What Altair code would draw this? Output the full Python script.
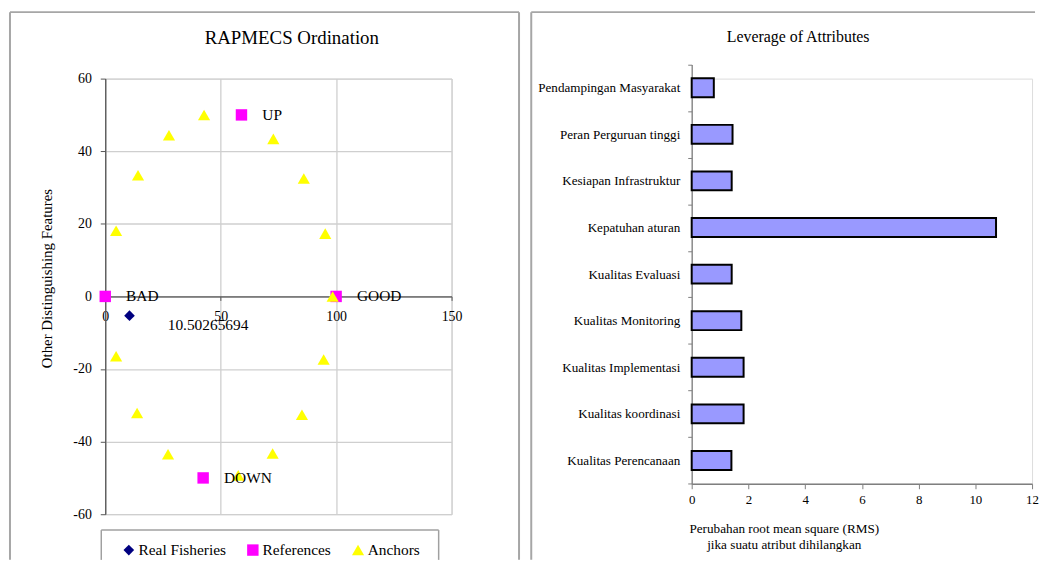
import altair as alt
import pandas as pd

FONT = "Liberation Serif"

# ---------------- data: ordination ----------------
series_names = ["Real Fisheries", "References", "Anchors"]
series_colors = ["#000080", "#FF00FF", "#FFFF00"]
series_shapes = ["diamond", "square", "triangle-up"]
series_sizes = [115, 150, 230]

real_x = [10.50265694]
real_y = [-5.3]
real_label = ["10.50265694"]

ref_labels = ["BAD", "GOOD", "UP", "DOWN"]
ref_x = [0.0, 100.0, 59.0, 42.4]
ref_y = [0.0, 0.0, 50.0, -50.0]

anchor_x = [4.7, 14.2, 27.6, 42.8, 72.8, 86.0, 95.3, 98.5,
            4.7, 13.8, 27.2, 57.6, 72.5, 85.2, 94.6]
anchor_y = [18.1, 33.4, 44.4, 50.0, 43.4, 32.5, 17.3, 0.0,
            -16.5, -32.1, -43.5, -49.3, -43.3, -32.6, -17.4]

x_ticks = [0, 50, 100, 150]
y_ticks = [-60, -40, -20, 0, 20, 40, 60]

left_title = "RAPMECS Ordination"
right_title = "Leverage of Attributes"

# ---------------- data: leverage ----------------
attributes = ["Pendampingan Masyarakat", "Peran Perguruan tinggi",
              "Kesiapan Infrastruktur", "Kepatuhan aturan",
              "Kualitas Evaluasi", "Kualitas Monitoring",
              "Kualitas Implementasi", "Kualitas koordinasi",
              "Kualitas Perencanaan"]
rms_change = [0.78, 1.44, 1.41, 10.73, 1.41, 1.75, 1.83, 1.83, 1.40]
lev_ticks = [0, 2, 4, 6, 8, 10, 12]

# ---------------- tables ----------------
pts = pd.concat([
    pd.DataFrame({"series": "Real Fisheries", "x": real_x, "y": real_y, "label": real_label}),
    pd.DataFrame({"series": "References", "x": ref_x, "y": ref_y, "label": ref_labels}),
    pd.DataFrame({"series": "Anchors", "x": anchor_x, "y": anchor_y, "label": ""}),
], ignore_index=True)

lev = pd.DataFrame({"attr": attributes, "rms": rms_change})

FRAME = "#a6a6a6"
GRID = "#cfcfcf"
AXIS = "#7f7f7f"

LW, LH = 349, 439
RW = 343
R_TOP, R_BOT = -14.3, 408.3   # right plot area, relative to the shared row origin

one = pd.DataFrame({"d": [0]})


def frame_rule(x, y, x2=None, y2=None, color=FRAME, width=2):
    enc = {"x": alt.value(x), "y": alt.value(y)}
    if x2 is not None:
        enc["x2"] = alt.value(x2)
    if y2 is not None:
        enc["y2"] = alt.value(y2)
    return alt.Chart(one).mark_rule(color=color, strokeWidth=width).encode(**enc)


def title_text(text, x, y, size):
    return alt.Chart(one).mark_text(
        text=text, font=FONT, fontSize=size, color="black",
        align="center", baseline="middle").encode(x=alt.value(x), y=alt.value(y))


xsc = alt.Scale(domain=[0, 150], nice=False, zero=False)
ysc = alt.Scale(domain=[-60, 60], nice=False, zero=False)

points = alt.Chart(pts).mark_point(filled=True, opacity=1, strokeWidth=0).encode(
    x=alt.X("x:Q", scale=xsc,
            axis=alt.Axis(values=x_ticks, title=None, offset=-LH / 2,
                          grid=True, gridColor=GRID, gridWidth=1.3,
                          domainColor="#555555", domainWidth=1.3,
                          tickColor="#555555", tickSize=4, labelPadding=9,
                          labelFlush=False, labelOverlap=False,
                          labelExpr="'' + datum.value",
                          labelFont=FONT, labelFontSize=14, labelColor="black")),
    y=alt.Y("y:Q", scale=ysc,
            axis=alt.Axis(values=y_ticks, title="Other Distinguishing Features",
                          grid=True, gridColor=GRID, gridWidth=1.3,
                          domainColor="#555555", domainWidth=1.3,
                          tickColor="#555555", tickSize=5, labelPadding=9,
                          labelFlush=False, labelOverlap=False,
                          labelExpr="'' + datum.value",
                          labelFont=FONT, labelFontSize=14, labelColor="black",
                          titleFont=FONT, titleFontSize=15, titleFontWeight="normal",
                          titleColor="black",
                          titleX=-59, titleY=201, titleAngle=270,
                          titleBaseline="middle", titleAlign="center")),
    color=alt.Color("series:N",
                    scale=alt.Scale(domain=series_names, range=series_colors),
                    legend=alt.Legend(title=None, orient="none", legendX=16, legendY=467,
                                      direction="horizontal", labelFont=FONT,
                                      labelFontSize=15.5, labelColor="black",
                                      labelOffset=2, columnPadding=19, padding=0,
                                      symbolStrokeWidth=0, symbolOpacity=1)),
    shape=alt.Shape("series:N",
                    scale=alt.Scale(domain=series_names, range=series_shapes)),
    size=alt.Size("series:N",
                  scale=alt.Scale(domain=series_names, range=series_sizes)),
    order=alt.Order("ord:Q"),
).transform_calculate(
    ord="datum.series == 'Anchors' ? 3 : (datum.series == 'References' ? 2 : 1)"
)

ref_text = alt.Chart(pts).transform_filter(
    "datum.series == 'References'"
).mark_text(align="left", baseline="middle", dx=21, font=FONT,
            fontSize=15.5, color="black").encode(
    x=alt.X("x:Q", scale=xsc), y=alt.Y("y:Q", scale=ysc), text="label:N")

real_text = alt.Chart(pts).transform_filter(
    "datum.series == 'Real Fisheries'"
).mark_text(align="left", baseline="middle", dx=38.5, dy=9.3, font=FONT,
            fontSize=15.5, color="black").encode(
    x=alt.X("x:Q", scale=xsc), y=alt.Y("y:Q", scale=ysc), text="label:N")

# frame of left panel (plot origin at page 104,76)
lf_top = frame_rule(-96, -67, x2=417)
lf_left = frame_rule(-96, -67, y2=485)
lf_right = frame_rule(417, -67, y2=485)
# legend box
lg_top = frame_rule(-4, 455, x2=336, color="#a0a0a0", width=1.5)
lg_left = frame_rule(-4, 455, y2=485, color="#a0a0a0", width=1.5)
lg_right = frame_rule(336, 455, y2=485, color="#a0a0a0", width=1.5)

left = alt.layer(
    lf_top, lf_left, lf_right, lg_top, lg_left, lg_right,
    title_text(left_title, 188, -41.2, 19),
    points, ref_text, real_text
).properties(width=LW, height=LH)

# ---------------- right chart ----------------
bars = alt.Chart(lev).mark_bar(
    color="#9999FF", stroke="black", strokeWidth=2,
    height=alt.RelativeBandSize(0.405)
).encode(
    x=alt.X("rms:Q", scale=alt.Scale(domain=[0, 12], nice=False),
            axis=alt.Axis(values=lev_ticks, grid=False,
                          title=["Perubahan root mean square (RMS)",
                                 "jika suatu atribut dihilangkan"],
                          titleFont=FONT, titleFontSize=13.3, titleFontWeight="normal",
                          titleColor="black", titleX=92.8, titleY=38,
                          titleAlign="center", titleBaseline="top",
                          titleLineHeight=16.4,
                          labelFlush=False, labelOverlap=False,
                          domainColor=AXIS, domainWidth=1.3, tickColor=AXIS,
                          tickSize=5, labelPadding=5, labelFont=FONT,
                          labelFontSize=13, labelColor="black")),
    y=alt.Y("attr:N", sort=attributes,
            scale=alt.Scale(paddingInner=0, paddingOuter=0, range=[R_TOP, R_BOT]),
            axis=alt.Axis(title=None, tickBand="extent", domainColor=AXIS,
                          domainWidth=1.3, tickColor=AXIS, tickSize=4,
                          labelPadding=8, labelFont=FONT, labelFontSize=13.2,
                          labelColor="black", labelLimit=300)),
)

# frame of right panel (row origin at page y 76, plot x origin at page 692.7)
rf_top = frame_rule(-161.7, -67, x2=346)
rf_left = frame_rule(-161.7, -67, y2=485)

right = alt.layer(
    rf_top, rf_left, title_text(right_title, 107.3, -41.5, 16), bars
).properties(width=RW, height=R_BOT)

chart = alt.hconcat(left, right, spacing=8).properties(padding=0).configure_view(
    stroke=None
).configure(background="white")

chart.save("out.html", embed_options={"renderer": "svg", "actions": False})
